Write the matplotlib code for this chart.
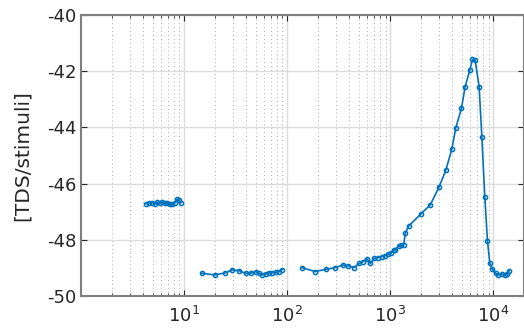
import numpy as np
import matplotlib
matplotlib.use("Agg")
import matplotlib.pyplot as plt
from matplotlib.ticker import LogLocator, NullFormatter, FixedLocator

# three separate measurement bands
f1 = [4.3, 4.6, 4.9, 5.2, 5.5, 5.8, 6.1, 6.5, 6.9, 7.3, 7.7, 8.1, 8.5, 8.9, 9.3]
v1 = [-46.72, -46.70, -46.68, -46.72, -46.66, -46.68, -46.67, -46.70, -46.68,
      -46.72, -46.73, -46.70, -46.56, -46.60, -46.68]

f2 = [14.9, 19.8, 24.8, 29.4, 34.1, 39.6, 44.2, 49.5, 53.3, 57.4, 61.8, 66.6,
      71.8, 77.3, 83.2, 89.7]
v2 = [-49.19, -49.25, -49.18, -49.07, -49.10, -49.19, -49.19, -49.13, -49.19,
      -49.25, -49.22, -49.17, -49.17, -49.16, -49.13, -49.06]

f3 = [139, 187, 239, 292, 346, 387, 443, 502, 541, 596, 641, 701, 755, 826,
      891, 958, 1018, 1080, 1120, 1206, 1270, 1349, 1400, 1508, 1987, 2445,
      2987, 3466, 3962, 4332, 4912, 5332, 5918, 6280, 6665, 7290, 7742, 8279,
      8780, 9255, 9810, 10570, 11220, 12080, 13010, 13710, 14230]
v3 = [-48.99, -49.13, -49.05, -48.99, -48.90, -48.92, -48.99, -48.84, -48.78,
      -48.68, -48.84, -48.66, -48.64, -48.60, -48.57, -48.52, -48.48, -48.36,
      -48.36, -48.22, -48.20, -48.19, -47.77, -47.51, -47.08, -46.76, -46.11,
      -45.52, -44.77, -44.01, -43.32, -42.55, -41.96, -41.58, -41.60, -42.55,
      -44.33, -46.49, -48.03, -48.84, -49.05, -49.19, -49.25, -49.22, -49.25,
      -49.22, -49.10]

xmajor = [10, 100, 1000, 10000]

plt.rcParams.update({"font.family": "DejaVu Sans", "font.size": 13,
                     "axes.unicode_minus": False})
blue = "#0072BD"
dark = "#262626"

fig = plt.figure(figsize=(5.24, 3.31), dpi=100)
ax = fig.add_axes([0.1546, 0.1057, 0.846, 0.849])

for f, v in [(f1, v1), (f2, v2), (f3, v3)]:
    ax.plot(f, v, "-o", color=blue, lw=1.2, ms=3.0, mfc="none", mew=1.1)

ax.set_xscale("log")
ax.set_xlim(1, 2e4)
ax.set_ylim(-50, -40)
ax.set_yticks(np.arange(-50, -39, 2))
ax.xaxis.set_major_locator(FixedLocator(xmajor))
ax.xaxis.set_minor_locator(LogLocator(base=10, subs=np.arange(2, 10), numticks=20))
ax.xaxis.set_minor_formatter(NullFormatter())

ax.grid(True, which="major", color="#dcdcdc", lw=1.0)
ax.grid(True, which="minor", axis="x", color="#b0b0b0", lw=0.7, ls=(0, (1, 3)))
ax.set_axisbelow(True)

ax.tick_params(which="both", direction="in", top=True, right=True, colors=dark,
               labelsize=13)
ax.tick_params(axis="x", which="major", pad=7)
ax.tick_params(which="major", length=4, width=0.8)
ax.tick_params(which="minor", length=2.5, width=0.6)
for s in ax.spines.values():
    s.set_color("#808080")
    s.set_linewidth(1.5)

ax.set_ylabel("[TDS/stimuli]", color=dark, fontsize=14.5, labelpad=11)

fig.savefig("out.png", dpi=100)
